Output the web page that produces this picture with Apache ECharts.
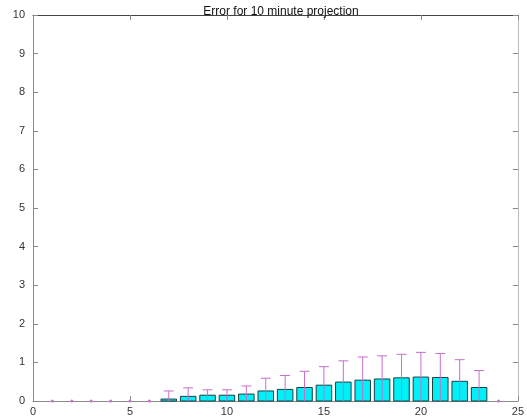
<!DOCTYPE html>
<html><head><meta charset="utf-8">
<script src="https://cdn.jsdelivr.net/npm/echarts@6/dist/echarts.min.js"></script>
<style>html,body{margin:0;padding:0;background:#fff}#c{width:527px;height:418px}</style>
</head><body><div id="c"></div>
<script>
var xs = [1,2,3,4,5,6,7,8,9,10,11,12,13,14,15,16,17,18,19,20,21,22,23,24];
var means = [0,0,0,0,0,0,0.05,0.12,0.15,0.15,0.18,0.26,0.30,0.35,0.41,0.49,0.54,0.57,0.60,0.62,0.61,0.51,0.35,0];
var errs = [0,0,0,0,0,0,0.21,0.22,0.14,0.14,0.21,0.33,0.36,0.42,0.48,0.55,0.60,0.60,0.61,0.64,0.62,0.56,0.44,0];
var xTicks = [0,5,10,15,20,25];
var yTicks = [0,1,2,3,4,5,6,7,8,9,10];
var titleText = 'Error for 10 minute projection';

var barData = xs.map(function(x,i){return [x, means[i]];});
var errData = xs.map(function(x,i){return [x, means[i], errs[i]];});
var font = 'Liberation Sans, Arial, sans-serif';
var axisCol = '#8a8a8a';
var errCol = '#c86ecc';

function mkX(pos, showLabel, lineCol){
  return {type:'value', position:pos, min:xTicks[0], max:xTicks[xTicks.length-1], interval:5,
    axisLine:{show:true, onZero:false, lineStyle:{color:lineCol}},
    axisTick:{show:true, inside:true, length:5, lineStyle:{color:axisCol}},
    axisLabel:{show:showLabel, color:'#333', fontSize:11, fontFamily:font, margin:5},
    splitLine:{show:false}};
}
function mkY(pos, showLabel, lineCol){
  return {type:'value', position:pos, min:yTicks[0], max:yTicks[yTicks.length-1], interval:1,
    axisLine:{show:true, onZero:false, lineStyle:{color:lineCol}},
    axisTick:{show:true, inside:true, length:5, lineStyle:{color:axisCol}},
    axisLabel:{show:showLabel, color:'#333', fontSize:11, fontFamily:font, margin:8},
    splitLine:{show:false}};
}
var chart = echarts.init(document.getElementById('c'), null, {renderer:'canvas'});
chart.setOption({
  animation:false,
  title:{text:titleText, left:276, textAlign:'center', top:1,
    textStyle:{fontSize:12, fontWeight:'normal', color:'#111', fontFamily:font}},
  grid:{left:33, right:8, top:15, bottom:17},
  xAxis:[mkX('bottom', true, axisCol), mkX('top', false, '#444')],
  yAxis:[mkY('left', true, axisCol), mkY('right', false, '#bbb')],
  series:[
    {type:'custom', data:barData, encode:{x:0,y:1}, z:2,
     renderItem:function(params, api){
       var x = api.value(0), v = api.value(1);
       if (v <= 0) return null;
       var p1 = api.coord([x-0.4, v]), p2 = api.coord([x+0.4, 0]);
       return {type:'rect', shape:{x:p1[0], y:p1[1], width:p2[0]-p1[0], height:p2[1]-p1[1]},
         style:{fill:'#00f0f8', stroke:'#1c3f40', lineWidth:1}};
     }},
    {type:'custom', data:errData, encode:{x:0,y:1}, z:3,
     renderItem:function(params, api){
       var x = api.value(0), v = api.value(1), e = api.value(2);
       var top = api.coord([x, v+e]);
       var bot = api.coord([x, Math.max(0, v-e)]);
       if (e <= 0) {
         return {type:'circle', shape:{cx:top[0], cy:top[1], r:1.5}, style:{fill:errCol}};
       }
       return {type:'group', children:[
         {type:'line', shape:{x1:top[0], y1:top[1], x2:bot[0], y2:bot[1]}, style:{stroke:errCol, lineWidth:1}},
         {type:'line', shape:{x1:top[0]-5, y1:top[1], x2:top[0]+5, y2:top[1]}, style:{stroke:errCol, lineWidth:1}}
       ]};
     }}
  ]
});
</script></body></html>
